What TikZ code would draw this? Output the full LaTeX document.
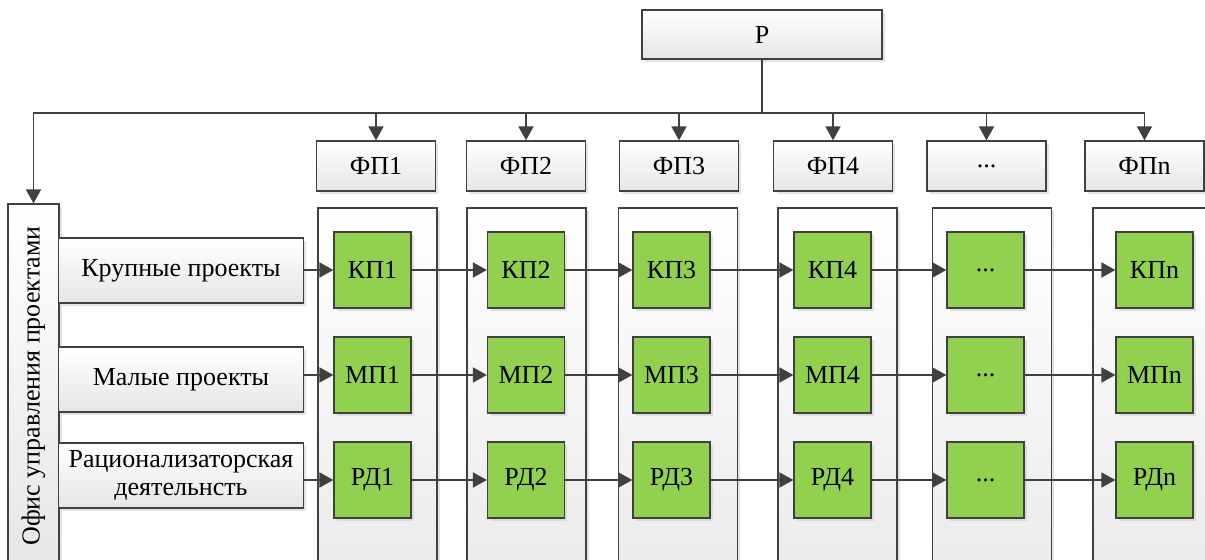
\documentclass[tikz,border=0pt]{standalone}
\usepackage{fontspec}
\setmainfont{Liberation Serif}
\usetikzlibrary{arrows.meta,shadows}
\tikzset{>={Triangle[length=0.28cm,width=0.3cm]}}
\definecolor{lineGray}{HTML}{404040}
\definecolor{cellGreen}{HTML}{92D050}

\begin{document}
\begin{tikzpicture}[
    x=0.02cm, y=-0.02cm,
    every node/.style={font=\fontsize{14.8}{15.8}\selectfont, align=center, inner sep=0pt},
    softShadow/.style={drop shadow={shadow xshift=0.06cm, shadow yshift=-0.06cm, fill=black!22}},
    grayBox/.style={draw=lineGray, line width=0.7pt, top color=white, bottom color=black!10, softShadow},
    column/.style={draw=lineGray, line width=0.7pt, top color=white, bottom color=black!8,
        minimum width=2.38cm, minimum height=7.4cm, softShadow},
    greenBox/.style={draw=lineGray, line width=0.7pt, fill=cellGreen,
        minimum width=1.54cm, minimum height=1.52cm, softShadow},
    link/.style={draw=lineGray, line width=1pt}
]
    \clip (0,0) rectangle (1205,560);

    % Columns
    \foreach \cx in {377.5,526.5,678,837.5,992,1152.5}
        \node[column] at (\cx,393) {};

    % Nodes
    \node[grayBox, minimum width=4.8cm, minimum height=0.98cm] (Head) at (762,34.5) {Р};
    \node[grayBox, minimum width=1.02cm, minimum height=7.4cm] (Office) at (33.5,389) {};
    \node[rotate=90] at (33.5,386) {Офис управления проектами};

    \node[grayBox, minimum width=4.9cm, minimum height=1.3cm] (Large) at (181,270.5) {Крупные проекты};
    \node[grayBox, minimum width=4.9cm, minimum height=1.3cm] (Small) at (181,379.5) {Малые проекты};
    \node[grayBox, minimum width=4.9cm, minimum height=1.3cm] (Rational) at (181,475.5) {Рационализаторская\\деятельнсть};

    \foreach \i/\fx/\gx/\s in {1/376/372.5/1, 2/526/526/2, 3/679/671.5/3,
                               4/833/832.5/4, 5/986.5/985.5/{}, 6/1144.5/1154.5/n} {
        \node[grayBox, minimum width=2.38cm, minimum height=1cm] (FP\i) at (\fx,166)
            {\ifnum\i=5 ...\else ФП\s\fi};
        \node[greenBox] (KP\i) at (\gx,270) {\ifnum\i=5 ...\else КП\s\fi};
        \node[greenBox] (MP\i) at (\gx,375) {\ifnum\i=5 ...\else МП\s\fi};
        \node[greenBox] (RD\i) at (\gx,480) {\ifnum\i=5 ...\else РД\s\fi};
    }

    % Arrows
    \coordinate (Split) at (762,113);
    \draw[link] (Head) -- (Split);
    \draw[link] (Split) -- (Split -| FP6);
    \draw[link,->] (Split) -| (Office.north);
    \foreach \i in {1,...,6}
        \draw[link,->] (Split -| FP\i) -- (FP\i.north);

    \draw[link,->] (Large.east |- KP1) -- (KP1);
    \draw[link,->] (Small.east |- MP1) -- (MP1);
    \draw[link,->] (Rational.east |- RD1) -- (RD1);
    \foreach \i [evaluate=\i as \j using int(\i+1)] in {1,...,5} {
        \draw[link,->] (KP\i) -- (KP\j);
        \draw[link,->] (MP\i) -- (MP\j);
        \draw[link,->] (RD\i) -- (RD\j);
    }
\end{tikzpicture}
\end{document}
